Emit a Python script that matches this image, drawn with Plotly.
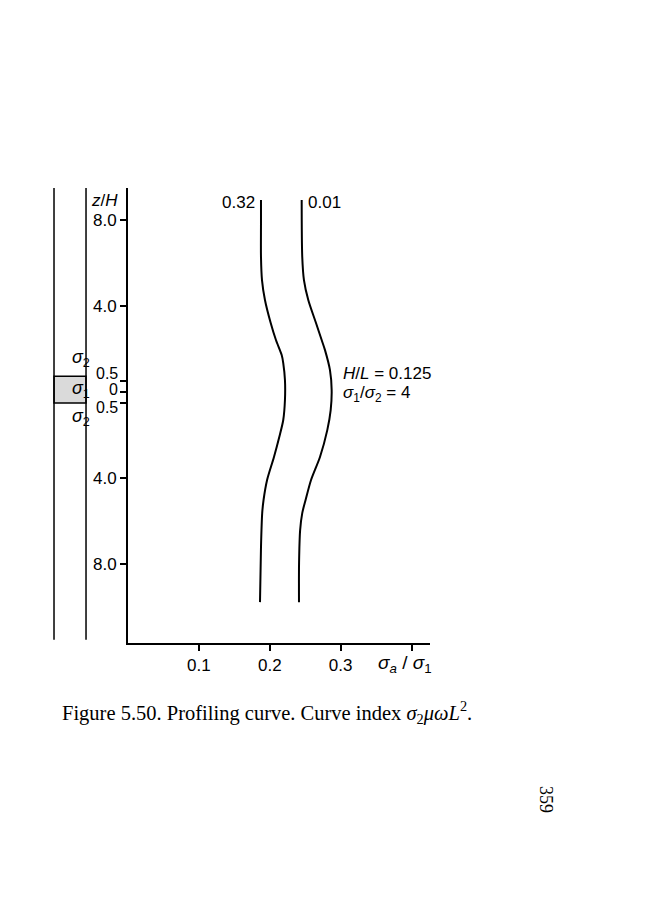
import plotly.graph_objects as go

# ---- data ----
# curve index sigma2*mu*omega*L^2 = 0.32
z_032 = [8.93, 7.86, 6.28, 5.21, 4.28, 3.21, 2.42, 1.72, 1.35, 0.56, -0.37, -1.30, -2.09, -3.02, -4.09, -5.02, -5.63, -7.21, -9.77]
x_032 = [0.1876, 0.1876, 0.1876, 0.1890, 0.1932, 0.2013, 0.2087, 0.2168, 0.2190, 0.2214, 0.2214, 0.2190, 0.2134, 0.2059, 0.1962, 0.1912, 0.1893, 0.1876, 0.1862]
# curve index = 0.01
z_001 = [8.93, 6.28, 5.21, 4.28, 3.21, 2.42, 1.95, 1.02, 0.09, -0.84, -1.77, -3.02, -4.09, -5.02, -5.63, -6.42, -7.95, -9.77]
x_001 = [0.2450, 0.2458, 0.2482, 0.2543, 0.2652, 0.2732, 0.2779, 0.2849, 0.2873, 0.2859, 0.2811, 0.2708, 0.2582, 0.2505, 0.2458, 0.2428, 0.2413, 0.2412]

curve_labels = ["0.32", "0.01"]
x_ticks = [0.1, 0.2, 0.3, 0.4]
x_ticktext = ["0.1", "0.2", "0.3", ""]
y_ticks = [8.0, 4.0, 0.5, 0.0, -0.5, -4.0, -8.0]
y_ticktext = ["8.0", "4.0", "", "", "", "4.0", "8.0"]
# labels of the crowded ticks near the layer
layer_tick_text = ["0.5", "0", "0.5"]
layer_tick_pos = [0.88, 0.14, -0.70]

FONT = "Liberation Sans, Arial, sans-serif"
SERIF = "Liberation Serif, DejaVu Serif, serif"
FS = 17

fig = go.Figure()
for xs, zs in [(x_032, z_032), (x_001, z_001)]:
    fig.add_trace(go.Scatter(x=xs, y=zs, mode="lines",
                             line=dict(color="black", width=2, shape="spline", smoothing=0.8),
                             showlegend=False, hoverinfo="skip"))

# curve labels
fig.add_annotation(x=x_032[0], y=z_032[0], text=curve_labels[0], showarrow=False, xanchor="right", xshift=-4, yshift=-2,
                   font=dict(family=FONT, size=FS, color="black"))
fig.add_annotation(x=x_001[0], y=z_001[0], text=curve_labels[1], showarrow=False, xanchor="left", xshift=4, yshift=-2,
                   font=dict(family=FONT, size=FS, color="black"))

# parameters
fig.add_annotation(x=0.301, y=0.88, text="<i>H</i>/<i>L</i> = 0.125", showarrow=False, xanchor="left",
                   font=dict(family=FONT, size=FS, color="black"))
fig.add_annotation(x=0.301, y=-0.1, text="<i>σ</i><sub>1</sub>/<i>σ</i><sub>2</sub> = 4", showarrow=False, xanchor="left",
                   font=dict(family=FONT, size=FS, color="black"))

# x label in place of 0.4 tick label
fig.add_annotation(x=0.391, yref="paper", y=-0.046, yanchor="middle",
                   text="<i>σ</i><sub><i>a</i></sub> / <i>σ</i><sub>1</sub>", showarrow=False,
                   font=dict(family=FONT, size=19, color="black"))
# y label
fig.add_annotation(xref="paper", x=-0.026, y=8.93, text="<i>z</i>/<i>H</i>", showarrow=False, xanchor="right",
                   font=dict(family=FONT, size=FS, color="black"))
# crowded tick labels
for t, p in zip(layer_tick_text, layer_tick_pos):
    fig.add_annotation(xref="paper", x=-0.026, y=p, text=t, showarrow=False, xanchor="right",
                       font=dict(family=FONT, size=16, color="black"))

# left layer schematic
xl_out, xl_in = -0.245, -0.139
fig.add_shape(type="line", xref="paper", yref="paper", x0=xl_out, x1=xl_out, y0=0.007, y1=1.0,
              line=dict(color="black", width=1.5))
fig.add_shape(type="line", xref="paper", yref="paper", x0=xl_in, x1=xl_in, y0=0.007, y1=1.0,
              line=dict(color="black", width=1.5))
fig.add_shape(type="rect", xref="paper", yref="y", x0=xl_out, x1=xl_in, y0=0.74, y1=-0.51,
              fillcolor="#dadada", line=dict(color="black", width=1.5), layer="below")
for zz, txt in [(1.58, "<i>σ</i><sub>2</sub>"), (0.14, "<i>σ</i><sub>1</sub>"), (-1.16, "<i>σ</i><sub>2</sub>")]:
    fig.add_annotation(xref="paper", x=(xl_out + xl_in) / 2, y=zz, text=txt, showarrow=False,
                       font=dict(family=FONT, size=18, color="black"))

# caption and page number
fig.add_annotation(xref="paper", yref="paper", x=-0.225, y=-0.152, xanchor="left", yanchor="middle", showarrow=False,
                   text="Figure 5.50. Profiling curve. Curve index <i>σ</i><sub>2</sub><i>μω</i><i>L</i><sup>2</sup>.",
                   font=dict(family=SERIF, size=20.5, color="black"))
fig.add_annotation(xref="paper", yref="paper", x=1.384, y=-0.345, xanchor="center", yanchor="middle",
                   showarrow=False, textangle=90,
                   text="359", font=dict(family=SERIF, size=18, color="black"))

fig.update_xaxes(range=[0, 0.426], tickvals=x_ticks, ticktext=x_ticktext, ticks="outside", ticklen=6, tickwidth=1.5,
                 tickcolor="black", showline=True, linecolor="black", linewidth=2, showgrid=False, zeroline=False,
                 tickfont=dict(family=FONT, size=FS, color="black"), fixedrange=True)
fig.update_yaxes(range=[-11.67, 9.49], tickvals=y_ticks, ticktext=y_ticktext, ticks="outside", ticklen=6, tickwidth=1.5,
                 tickcolor="black", showline=True, linecolor="black", linewidth=2, showgrid=False, zeroline=False,
                 tickfont=dict(family=FONT, size=FS, color="black"), fixedrange=True)

fig.update_layout(width=650, height=900, margin=dict(l=120, r=228, t=180, b=265),
                  plot_bgcolor="white", paper_bgcolor="white", showlegend=False)

fig.write_html("out.html")
